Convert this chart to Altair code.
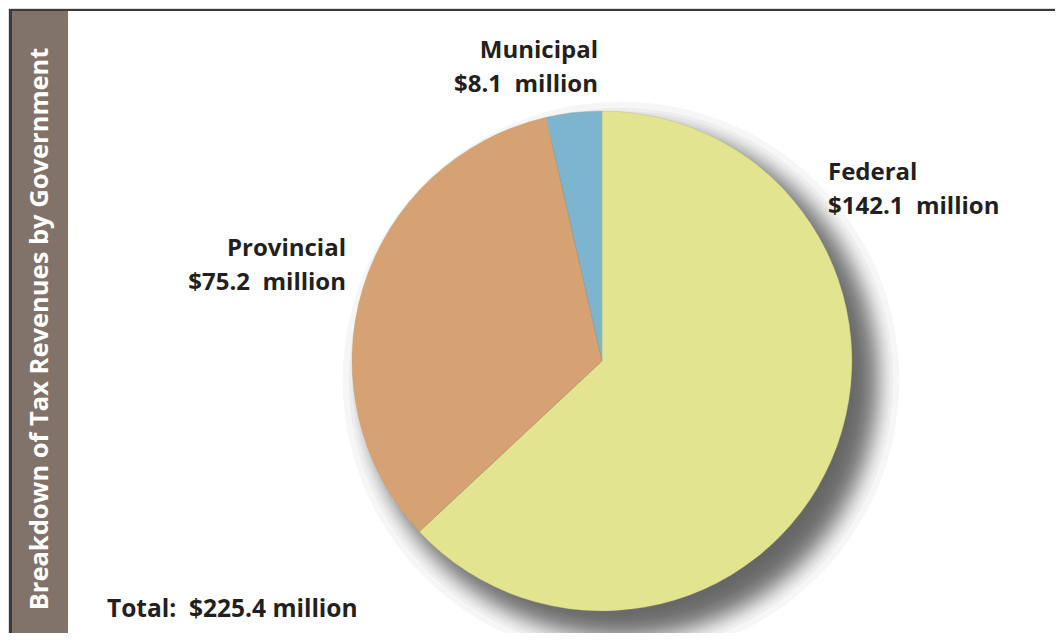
import altair as alt
import pandas as pd
from statistics import NormalDist

categories = ["Federal", "Provincial", "Municipal"]
values = [142.1, 75.2, 8.1]
order = [1, 2, 3]
colors = ["#e3e48f", "#d6a274", "#7db5cf"]
NB = "\u00a0"
label_line1 = ["Federal", "Provincial", "Municipal"]
label_line2 = ["$142.1" + NB + NB + "million", "$75.2" + NB + NB + "million", "$8.1" + NB + NB + "million"]
total_text = "Total:" + NB + NB + "$225.4 million"
side_title = "Breakdown of Tax Revenues by Government"

W, H = 1047, 625
CX, CY, R = 594, 353, 250
FONT = "Open Sans"
TXT = "#231f20"

df = pd.DataFrame({"category": categories, "value": values, "order": order})
one = pd.DataFrame({"k": [0]})

layers = []

# frame and sidebar
layers.append(alt.Chart(one).mark_rect(color="#3b3b3b").encode(
    x=alt.value(1), x2=alt.value(W + 10), y=alt.value(1), y2=alt.value(3)))
layers.append(alt.Chart(one).mark_rect(color="#3b3b3b").encode(
    x=alt.value(1), x2=alt.value(4), y=alt.value(1), y2=alt.value(H + 10)))
layers.append(alt.Chart(one).mark_rect(color="#817369").encode(
    x=alt.value(4), x2=alt.value(60), y=alt.value(3), y2=alt.value(H + 10)))
layers.append(alt.Chart(one).mark_text(
    text=side_title, angle=270, font=FONT, fontSize=25.5, fontWeight="bold",
    color="white", align="center", baseline="middle").encode(
    x=alt.value(32), y=alt.value(321)))

# blurred drop shadow (nested translucent discs, gaussian-spaced radii)
n = 34
sigma = 13
RS = R
nd = NormalDist()
for i in range(n):
    z = nd.inv_cdf(1 - (i + 0.5) / n)
    r = RS + sigma * z
    layers.append(alt.Chart(one).mark_arc(
        theta=0, theta2=6.2832, radius=r, color="#46484b", opacity=0.052).encode(
        x=alt.value(CX + 19), y=alt.value(CY + 19)))

# pie
pie = alt.Chart(df).mark_arc(radius=R, stroke="#b0a070", strokeWidth=0.3).encode(
    theta=alt.Theta("value:Q", stack=True),
    order=alt.Order("order:Q"),
    color=alt.Color("category:N", scale=alt.Scale(domain=categories, range=colors), legend=None),
    x=alt.value(CX), y=alt.value(CY),
)
layers.append(pie)

# labels
label_pos = {
    "Federal": (820, 172, "left"),
    "Provincial": (338, 248, "right"),
    "Municipal": (590, 50, "right"),
}
for c, l1, l2 in zip(categories, label_line1, label_line2):
    x, y, a = label_pos[c]
    for j, t in enumerate([l1, l2]):
        layers.append(alt.Chart(one).mark_text(
            text=t, font=FONT, fontSize=24, fontWeight="bold", color=TXT,
            align=a, baseline="alphabetic").encode(
            x=alt.value(x), y=alt.value(y + 34 * j)))

layers.append(alt.Chart(one).mark_text(
    text=total_text, font=FONT, fontSize=24.5, fontWeight="bold", color=TXT,
    align="left", baseline="alphabetic").encode(
    x=alt.value(99), y=alt.value(609)))

chart = alt.layer(*layers).properties(
    width=W, height=H, autosize="none", padding=0
).configure_view(stroke=None).configure(background="white")

chart.save("out.html", embed_options={"renderer": "svg", "actions": False})
